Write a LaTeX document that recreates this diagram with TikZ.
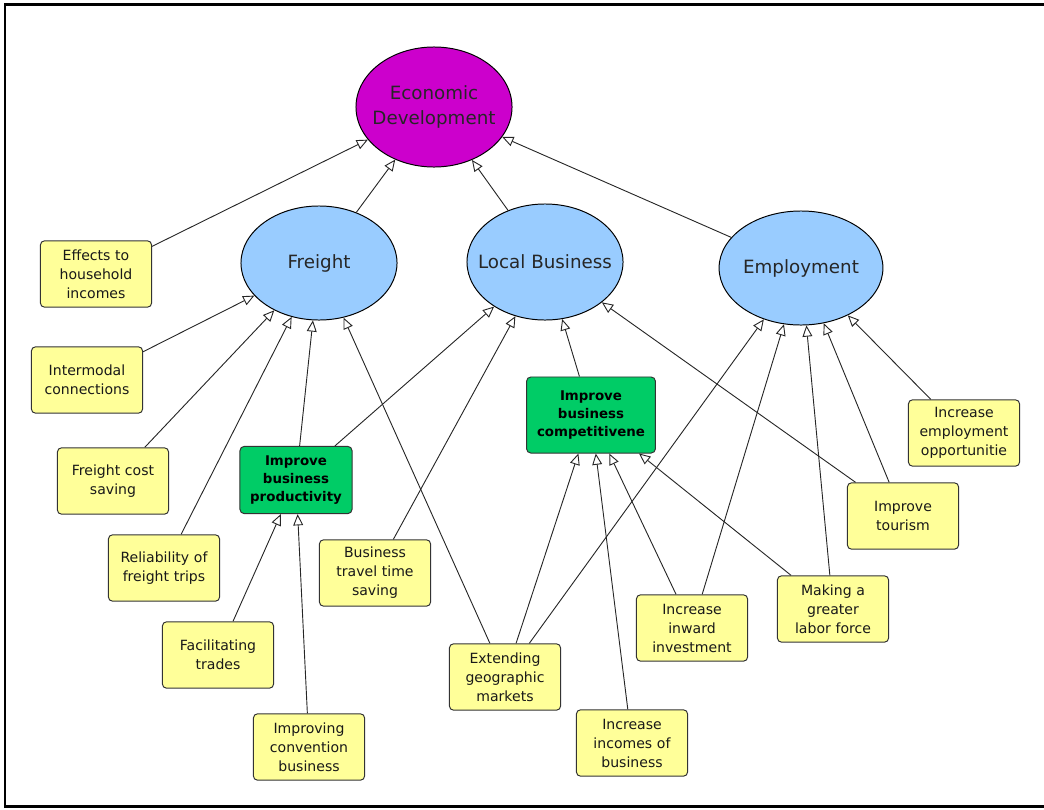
\documentclass[tikz,border=0pt]{standalone}
\usepackage{fontspec}
\setmainfont{DejaVu Sans}
\usetikzlibrary{arrows.meta,shapes.geometric}
\definecolor{goalpurple}{RGB}{204,0,204}
\definecolor{topicblue}{RGB}{153,204,255}
\definecolor{leafyellow}{RGB}{255,255,153}
\definecolor{midgreen}{RGB}{0,204,102}
\begin{document}
\begin{tikzpicture}[x=0.025cm, y=-0.025cm,
	goal/.style={ellipse, draw=black, line width=0.7pt, fill=goalpurple, minimum width=3.9cm, minimum height=3cm, inner sep=0pt, inner xsep=-0.17cm, align=center, font=\fontsize{13}{17.5}\selectfont, text=black!85},
	topic/.style={ellipse, draw=black, line width=0.7pt, fill=topicblue, minimum width=3.9cm, minimum height=2.85cm, inner sep=0pt, align=center, font=\fontsize{13}{17}\selectfont, text=black!85},
	leaf/.style={rectangle, rounded corners=3pt, draw=black!80, line width=0.7pt, fill=leafyellow, minimum width=2.78cm, minimum height=1.66cm, text width=2.6cm, inner sep=1pt, align=center, font=\fontsize{10}{13.5}\selectfont, text=black!90},
	mid/.style={rectangle, rounded corners=3pt, draw=black!80, line width=0.7pt, fill=midgreen, minimum width=2.8cm, minimum height=1.68cm, text width=2.6cm, inner sep=1pt, align=center, font=\fontsize{9.5}{13}\selectfont\bfseries},
	link/.style={-{Triangle[open, length=8pt, width=7pt]}, line width=0.65pt, draw=black!85}]
	\useasboundingbox (0,0) rectangle (1044,809);
	\draw[line width=1.6pt] (1046,4.5) -- (5,4.5) -- (5,806.5) -- (1046,806.5);
	% goal and topics
	\node[goal] (econ) at (434,107) {Economic\\Development};
	\node[topic] (freight) at (319,263) {Freight};
	\node[topic, minimum height=2.9cm, inner xsep=-0.31cm] (local) at (545,262) {Local Business};
	\node[topic] (employ) at (801,268) {Employment};
	% middle boxes
	\node[mid] (product) at (296,480) {Improve\\business\\productivity};
	\node[mid, minimum width=3.22cm, minimum height=1.9cm, text width=3.1cm] (compete) at (591,415) {Improve\\business\\competitivene};
	% leaves
	\node[leaf] (effects) at (96,274) {Effects to\\household\\incomes};
	\node[leaf] (intermodal) at (87,380) {Intermodal\\connections};
	\node[leaf] (costsave) at (113,481) {Freight cost\\saving};
	\node[leaf] (reliab) at (164,568) {Reliability of\\freight trips};
	\node[leaf] (travel) at (375,573) {Business\\travel time\\saving};
	\node[leaf] (trades) at (218,655) {Facilitating\\trades};
	\node[leaf] (convention) at (309,747) {Improving\\convention\\business};
	\node[leaf] (markets) at (505,677) {Extending\\geographic\\markets};
	\node[leaf] (incomes) at (632,743) {Increase\\incomes of\\business};
	\node[leaf] (inward) at (692,628) {Increase\\inward\\investment};
	\node[leaf] (labor) at (833,609) {Making a\\greater\\labor force};
	\node[leaf] (tourism) at (903,516) {Improve\\tourism};
	\node[leaf] (jobs) at (964,433) {Increase\\employment\\opportunitie};
	% links to the goal
	\draw[link] (effects) -- (econ);
	\draw[link] (freight) -- (econ);
	\draw[link] (local) -- (econ);
	\draw[link] (employ) -- (econ);
	% links to freight
	\draw[link] (intermodal) -- (freight);
	\draw[link] (costsave) -- (freight);
	\draw[link] (reliab) -- (freight);
	\draw[link] (product) -- (freight);
	\draw[link] (markets) -- (freight);
	% links to local business
	\draw[link] (product) -- (local);
	\draw[link] (travel) -- (local);
	\draw[link] (compete) -- (local);
	\draw[link] (tourism) -- (local);
	% links to employment
	\draw[link] (markets) -- (employ);
	\draw[link] (inward) -- (employ);
	\draw[link] (labor) -- (employ);
	\draw[link] (tourism) -- (employ);
	\draw[link] (jobs) -- (employ);
	% links to the middle boxes
	\draw[link] (trades) -- (product);
	\draw[link] (convention) -- (product);
	\draw[link] (markets) -- (compete);
	\draw[link] (incomes) -- (compete);
	\draw[link] (inward) -- (compete);
	\draw[link] (labor) -- (compete);
\end{tikzpicture}
\end{document}
